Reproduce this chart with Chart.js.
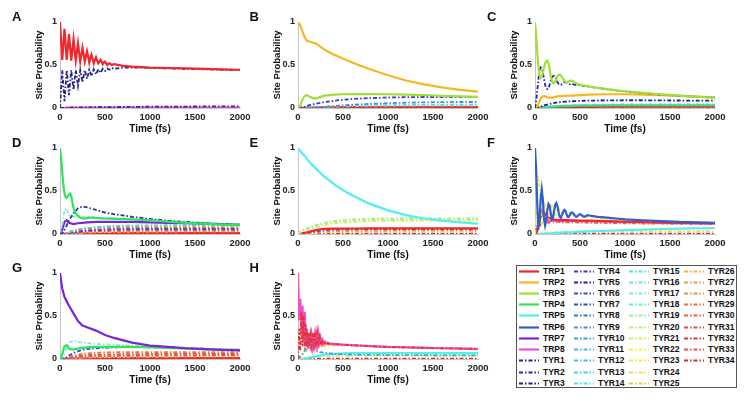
<!DOCTYPE html>
<html>
<head>
<meta charset="utf-8">
<script src="https://cdn.jsdelivr.net/npm/chart.js@4.4.1/dist/chart.umd.min.js"></script>
<style>
  html, body { margin:0; padding:0; background:#fff; }
  #root { position:relative; width:749px; height:401px; overflow:hidden; background:#fff; font-family:"Liberation Sans", Arial, sans-serif; }
  canvas { position:absolute; }
  .plabel { position:absolute; font-weight:bold; font-size:13px; line-height:13px; color:#111; }
  #legend { position:absolute; left:516px; top:265px; width:221px; height:123px; box-sizing:border-box; border:1px solid #555; background:#fff; }
  .litem { position:absolute; height:11px; display:flex; align-items:center; white-space:nowrap; }
  .litem span { font-weight:bold; font-size:8.5px; color:#111; margin-left:4px; line-height:11px; }
</style>
</head>
<body>
<div id="root">
  <div id="legend"></div>
</div>
<script>
// ---------- categories / ticks ----------
const seriesNames = ['TRP1','TRP2','TRP3','TRP4','TRP5','TRP6','TRP7','TRP8',
  'TYR1','TYR2','TYR3','TYR4','TYR5','TYR6','TYR7','TYR8','TYR9','TYR10','TYR11','TYR12','TYR13','TYR14',
  'TYR15','TYR16','TYR17','TYR18','TYR19','TYR20','TYR21','TYR22','TYR23','TYR24','TYR25',
  'TYR26','TYR27','TYR28','TYR29','TYR30','TYR31','TYR32','TYR33','TYR34'];
const panelLetters = ['A','B','C','D','E','F','G','H'];
const xTicks = [0, 500, 1000, 1500, 2000];
const yTicks = [0, 0.5, 1];
const xTitle = 'Time (fs)';
const yTitle = 'Site Probability';

// ---------- time grids (fs) ----------
const tFine = [0,12.5,25,37.5,50,62.5,75,87.5,100,112.5,125,137.5,150,162.5,175,187.5,200,212.5,225,237.5,250,262.5,275,287.5,300,312.5,325,337.5,350,362.5,375,387.5,400,412.5,425,437.5,450,462.5,475,487.5,500,512.5,525,537.5,550,562.5,575,587.5,600,700,800,900,1000,1200,1400,1600,1800,2000];
const tCoarse = [0,25,50,75,100,150,200,250,300,400,500,600,800,1000,1200,1400,1600,1800,2000];

// ---------- Panel A ----------
const A_TRP1 = [1.00,0.78,0.56,0.74,0.92,0.74,0.56,0.71,
  0.86,0.70,0.55,0.68,0.80,0.67,0.55,0.65,
  0.75,0.64,0.54,0.62,0.70,0.62,0.54,0.60,
  0.66,0.60,0.53,0.58,0.62,0.57,0.52,0.56,
  0.59,0.55,0.52,0.54,0.56,0.54,0.51,0.53,
  0.54,0.52,0.50,0.515,0.52,0.51,0.50,0.505,
  0.51,0.49,0.48,0.475,0.47,0.465,0.46,0.455,0.45,0.445];
const A_TYR1 = [0.00,0.22,0.44,0.26,0.08,0.26,0.44,0.30,
  0.15,0.30,0.44,0.32,0.21,0.33,0.44,0.35,
  0.26,0.35,0.44,0.37,0.30,0.37,0.44,0.39,
  0.34,0.39,0.445,0.41,0.37,0.41,0.45,0.42,
  0.39,0.42,0.45,0.43,0.41,0.43,0.455,0.44,
  0.43,0.445,0.46,0.45,0.445,0.455,0.465,0.46,
  0.455,0.47,0.47,0.47,0.465,0.46,0.455,0.45,0.445,0.44];
const A_TRP8 = [0,0.002,0.003,0.004,0.004,0.005,0.005,0.005,0.005,0.005,0.005,0.005,0.005,0.005,0.005,0.005,0.005,0.005,0.005];
const A_TYR2 = [0,0,0.001,0.002,0.003,0.004,0.005,0.006,0.007,0.009,0.01,0.011,0.013,0.015,0.016,0.017,0.018,0.019,0.02];
const A_TYR31 = [0,0.001,0.002,0.002,0.003,0.003,0.003,0.003,0.003,0.003,0.003,0.003,0.003,0.003,0.003,0.003,0.003,0.003,0.003];

// ---------- Panel B ----------
const B_TRP2 = [1.0,0.96,0.89,0.82,0.78,0.765,0.75,0.71,0.675,0.62,0.575,0.53,0.45,0.38,0.32,0.275,0.24,0.21,0.19];
const B_TRP3 = [0,0.03,0.1,0.14,0.15,0.12,0.11,0.13,0.145,0.155,0.16,0.162,0.162,0.16,0.155,0.15,0.142,0.135,0.13];
const B_TYR4 = [0,0.002,0.008,0.015,0.025,0.04,0.05,0.06,0.07,0.085,0.095,0.105,0.115,0.122,0.126,0.128,0.128,0.127,0.126];
const B_TYR9 = [0,0,0,0.001,0.002,0.004,0.007,0.01,0.014,0.022,0.03,0.037,0.048,0.056,0.062,0.066,0.069,0.07,0.07];
const B_TYR14 = [0,0,0.001,0.002,0.003,0.006,0.009,0.012,0.015,0.02,0.024,0.027,0.031,0.034,0.036,0.037,0.038,0.038,0.038];
const B_TYR18 = [0,0,0.001,0.002,0.003,0.005,0.008,0.01,0.012,0.016,0.019,0.021,0.024,0.026,0.027,0.028,0.028,0.028,0.028];
const B_TRP1 = [0,0.001,0.002,0.003,0.004,0.005,0.006,0.007,0.008,0.009,0.01,0.01,0.011,0.011,0.011,0.011,0.011,0.011,0.011];
const B_TYR32 = [0,0,0.001,0.001,0.002,0.002,0.003,0.003,0.003,0.004,0.004,0.004,0.004,0.004,0.004,0.004,0.004,0.004,0.004];

// ---------- Panel C ----------
const C_TRP3 = [1.00,0.85,0.65,0.48,0.38,0.35,0.36,0.41,
  0.47,0.52,0.545,0.55,0.52,0.45,0.37,0.31,
  0.29,0.29,0.31,0.34,0.37,0.385,0.39,0.38,
  0.36,0.34,0.32,0.305,0.30,0.30,0.31,0.315,
  0.32,0.315,0.31,0.30,0.29,0.285,0.28,0.275,
  0.27,0.268,0.265,0.262,0.26,0.257,0.255,0.252,
  0.25,0.235,0.22,0.205,0.195,0.175,0.158,0.143,0.13,0.12];
const C_TYR5 = [0.00,0.08,0.20,0.33,0.43,0.47,0.46,0.41,
  0.34,0.27,0.23,0.22,0.23,0.27,0.32,0.355,
  0.37,0.375,0.36,0.33,0.30,0.28,0.27,0.27,
  0.28,0.29,0.30,0.30,0.295,0.29,0.28,0.275,
  0.275,0.275,0.275,0.272,0.27,0.27,0.268,0.265,
  0.265,0.263,0.26,0.258,0.256,0.254,0.252,0.25,
  0.248,0.233,0.218,0.203,0.193,0.173,0.156,0.142,0.13,0.12];
const C_TRP2 = [0,0.02,0.08,0.13,0.14,0.12,0.12,0.135,0.14,0.145,0.15,0.155,0.16,0.16,0.155,0.148,0.14,0.132,0.125];
const C_TYR3 = [0,0.002,0.01,0.02,0.03,0.045,0.055,0.065,0.07,0.078,0.083,0.086,0.088,0.09,0.09,0.088,0.087,0.086,0.085];
const C_TYR13 = [0,0,0.002,0.005,0.008,0.015,0.02,0.025,0.028,0.032,0.035,0.037,0.04,0.041,0.042,0.042,0.042,0.042,0.042];
const C_TRP4 = [0,0.001,0.003,0.006,0.009,0.013,0.017,0.02,0.022,0.025,0.027,0.028,0.03,0.031,0.031,0.031,0.031,0.031,0.031];
const C_TRP1 = [0,0.001,0.002,0.004,0.005,0.007,0.009,0.01,0.011,0.012,0.013,0.014,0.015,0.015,0.015,0.015,0.015,0.015,0.015];
const C_TYR33 = [0,0,0.001,0.002,0.003,0.004,0.005,0.006,0.006,0.007,0.007,0.008,0.008,0.008,0.008,0.008,0.008,0.008,0.008];

// ---------- Panel D ----------
const D_TRP4 = [1.00,0.88,0.72,0.57,0.47,0.43,0.42,0.44,
  0.46,0.47,0.44,0.37,0.30,0.26,0.24,0.22,
  0.21,0.20,0.19,0.185,0.18,0.18,0.18,0.182,
  0.185,0.187,0.19,0.19,0.19,0.19,0.19,0.188,
  0.186,0.185,0.184,0.183,0.182,0.181,0.18,0.18,
  0.18,0.18,0.179,0.179,0.179,0.178,0.178,0.178,
  0.177,0.175,0.17,0.165,0.16,0.145,0.13,0.12,0.11,0.10];
const D_TYR2 = [0,0.01,0.05,0.1,0.16,0.24,0.3,0.32,0.31,0.28,0.25,0.23,0.2,0.175,0.155,0.14,0.125,0.115,0.105];
const D_TYR17 = [0,0.1,0.28,0.3,0.22,0.2,0.21,0.2,0.2,0.19,0.185,0.18,0.17,0.16,0.15,0.14,0.13,0.12,0.11];
const D_TYR13 = [0,0,0.005,0.01,0.02,0.035,0.05,0.06,0.068,0.08,0.088,0.093,0.098,0.1,0.102,0.102,0.101,0.1,0.1];
const D_TRP7 = [0,0.05,0.14,0.16,0.13,0.115,0.125,0.13,0.135,0.14,0.142,0.142,0.14,0.136,0.13,0.125,0.12,0.115,0.11];
const D_TYR6 = [0,0,0.003,0.006,0.01,0.018,0.025,0.032,0.037,0.045,0.05,0.053,0.057,0.059,0.06,0.06,0.06,0.06,0.06];
const D_TYR29 = [0,0.002,0.008,0.015,0.025,0.04,0.052,0.06,0.066,0.073,0.077,0.079,0.08,0.08,0.08,0.08,0.079,0.078,0.077];
const D_TYR31 = [0,0.001,0.005,0.01,0.016,0.026,0.034,0.04,0.044,0.05,0.053,0.055,0.057,0.058,0.058,0.058,0.058,0.058,0.058];
const D_TYR33 = [0,0.001,0.003,0.006,0.01,0.015,0.02,0.024,0.027,0.031,0.034,0.036,0.038,0.039,0.04,0.04,0.04,0.04,0.04];
const D_TYR24 = [0,0.001,0.002,0.004,0.006,0.01,0.013,0.016,0.018,0.021,0.023,0.025,0.027,0.028,0.029,0.03,0.03,0.03,0.03];
const D_TRP1 = [0,0,0.001,0.002,0.003,0.004,0.005,0.006,0.007,0.008,0.009,0.01,0.01,0.01,0.01,0.01,0.01,0.01,0.01];

// ---------- Panel E ----------
const E_TRP5 = [1.0,0.97,0.93,0.91,0.87,0.81,0.76,0.71,0.66,0.58,0.51,0.45,0.35,0.275,0.22,0.18,0.155,0.135,0.12];
const E_TYR19 = [0,0.025,0.045,0.055,0.065,0.085,0.105,0.12,0.132,0.15,0.162,0.17,0.178,0.182,0.183,0.183,0.183,0.182,0.18];
const E_TYR20 = [0,0.02,0.04,0.05,0.06,0.08,0.1,0.113,0.124,0.14,0.15,0.158,0.165,0.168,0.17,0.17,0.17,0.17,0.17];
const E_TYR21 = [0,0.015,0.03,0.04,0.05,0.065,0.08,0.093,0.104,0.12,0.132,0.14,0.148,0.152,0.154,0.155,0.155,0.155,0.155];
const E_TRP1 = [0,0.005,0.01,0.015,0.02,0.035,0.045,0.055,0.06,0.062,0.063,0.064,0.065,0.065,0.065,0.065,0.065,0.065,0.065];
const E_TYR6 = [0,0.003,0.008,0.012,0.016,0.025,0.033,0.04,0.045,0.05,0.053,0.055,0.057,0.058,0.058,0.058,0.058,0.058,0.058];
const E_TYR28 = [0,0.002,0.005,0.008,0.011,0.017,0.022,0.026,0.029,0.033,0.036,0.038,0.04,0.041,0.042,0.042,0.042,0.042,0.042];
const E_TYR24 = [0,0.001,0.003,0.005,0.007,0.011,0.015,0.018,0.02,0.023,0.025,0.027,0.029,0.03,0.03,0.03,0.03,0.03,0.03];
const E_TYR34 = [0,0,0.001,0.001,0.002,0.002,0.003,0.003,0.003,0.003,0.003,0.003,0.003,0.003,0.003,0.003,0.003,0.003,0.003];

// ---------- Panel F ----------
const F_TRP6 = [1.00,0.75,0.35,0.08,0.12,0.40,0.52,0.40,
  0.18,0.10,0.16,0.28,0.35,0.33,0.24,0.17,
  0.19,0.27,0.34,0.36,0.32,0.25,0.20,0.19,
  0.22,0.26,0.28,0.27,0.23,0.20,0.20,0.22,
  0.245,0.25,0.24,0.22,0.205,0.20,0.21,0.225,
  0.23,0.225,0.215,0.205,0.20,0.205,0.215,0.218,
  0.215,0.20,0.19,0.18,0.17,0.16,0.15,0.14,0.135,0.13];
const F_TYR23 = [0.00,0.15,0.50,0.68,0.55,0.28,0.12,0.15,
  0.30,0.36,0.30,0.22,0.20,0.25,0.31,0.33,
  0.30,0.25,0.22,0.24,0.28,0.30,0.28,0.25,
  0.24,0.25,0.26,0.25,0.235,0.23,0.235,0.24,
  0.235,0.225,0.22,0.22,0.22,0.215,0.21,0.21,
  0.205,0.203,0.20,0.20,0.198,0.196,0.195,0.194,
  0.193,0.185,0.178,0.172,0.167,0.16,0.153,0.147,0.142,0.138];
const F_TRP1 = [0,0.05,0.15,0.24,0.25,0.19,0.17,0.16,0.165,0.16,0.155,0.155,0.15,0.145,0.14,0.135,0.13,0.128,0.125];
const F_TRP8 = [0,0.08,0.2,0.27,0.2,0.15,0.16,0.15,0.15,0.155,0.15,0.148,0.145,0.14,0.135,0.13,0.126,0.123,0.12];
const F_TYR30 = [0,0.02,0.08,0.12,0.15,0.13,0.14,0.14,0.135,0.135,0.133,0.13,0.128,0.125,0.122,0.12,0.118,0.116,0.115];
const F_TRP5 = [0,0,0.001,0.002,0.003,0.006,0.009,0.012,0.015,0.02,0.025,0.03,0.038,0.045,0.052,0.058,0.063,0.067,0.07];
const F_TYR24 = [0,0.002,0.005,0.008,0.011,0.016,0.02,0.023,0.025,0.028,0.03,0.031,0.032,0.033,0.033,0.033,0.033,0.033,0.033];
const F_TYR34 = [0,0,0.001,0.001,0.002,0.002,0.003,0.003,0.003,0.003,0.003,0.003,0.003,0.003,0.003,0.003,0.003,0.003,0.003];

// ---------- Panel G ----------
const G_TRP7 = [1.0,0.82,0.72,0.67,0.62,0.53,0.44,0.39,0.37,0.33,0.28,0.245,0.19,0.155,0.14,0.125,0.115,0.105,0.1];
const G_TRP4 = [0,0.06,0.15,0.16,0.12,0.11,0.12,0.13,0.135,0.14,0.14,0.14,0.14,0.135,0.13,0.12,0.115,0.11,0.105];
const G_TYR17 = [0,0.02,0.07,0.13,0.19,0.21,0.2,0.19,0.185,0.175,0.17,0.165,0.155,0.145,0.135,0.125,0.12,0.115,0.11];
const G_TYR7 = [0,0,0.01,0.02,0.04,0.07,0.09,0.105,0.115,0.125,0.13,0.135,0.14,0.14,0.135,0.13,0.12,0.11,0.1];
const G_TYR29 = [0,0.002,0.007,0.014,0.024,0.039,0.05,0.059,0.065,0.072,0.076,0.078,0.08,0.081,0.081,0.08,0.08,0.079,0.078];
const G_TYR31 = [0,0.001,0.004,0.009,0.015,0.025,0.033,0.039,0.043,0.049,0.052,0.054,0.057,0.058,0.059,0.059,0.059,0.058,0.058];
const G_TYR33 = [0,0.001,0.003,0.005,0.009,0.014,0.019,0.023,0.026,0.03,0.033,0.035,0.037,0.039,0.04,0.04,0.041,0.041,0.041];
const G_TYR22 = [0,0.001,0.002,0.004,0.006,0.01,0.013,0.016,0.018,0.021,0.023,0.025,0.027,0.028,0.029,0.03,0.03,0.03,0.03];
const G_TRP1 = [0,0,0.001,0.002,0.003,0.004,0.005,0.006,0.007,0.008,0.009,0.01,0.01,0.01,0.01,0.01,0.01,0.01,0.01];

// ---------- Panel H ----------
const H_TRP8 = [1.00,0.45,0.70,0.30,0.62,0.20,0.55,0.15,
  0.35,0.12,0.30,0.18,0.28,0.16,0.30,0.17,
  0.29,0.18,0.30,0.19,0.25,0.18,0.22,0.18,
  0.20,0.18,0.19,0.175,0.18,0.175,0.178,0.172,
  0.175,0.172,0.174,0.17,0.172,0.168,0.17,0.167,
  0.168,0.166,0.166,0.165,0.165,0.164,0.163,0.162,
  0.162,0.155,0.15,0.145,0.14,0.135,0.13,0.125,0.12,0.115];
const H_TYR32 = [0.00,0.35,0.10,0.55,0.15,0.50,0.12,0.40,
  0.14,0.30,0.15,0.28,0.16,0.30,0.17,0.28,
  0.18,0.30,0.18,0.26,0.19,0.22,0.18,0.20,
  0.18,0.19,0.178,0.185,0.176,0.18,0.175,0.177,
  0.173,0.175,0.171,0.172,0.17,0.17,0.168,0.168,
  0.166,0.166,0.165,0.164,0.163,0.162,0.161,0.16,
  0.16,0.155,0.15,0.145,0.14,0.135,0.13,0.125,0.122,0.12];
const H_TYR25 = [0,0.02,0.05,0.08,0.1,0.12,0.14,0.15,0.155,0.16,0.16,0.155,0.15,0.145,0.14,0.135,0.13,0.125,0.12];
const H_TRP5 = [0,0,0.002,0.005,0.01,0.02,0.03,0.04,0.05,0.06,0.065,0.068,0.07,0.07,0.07,0.07,0.069,0.068,0.068];
const H_TYR21 = [0,0.003,0.008,0.012,0.016,0.022,0.027,0.03,0.032,0.035,0.037,0.038,0.039,0.04,0.04,0.04,0.04,0.04,0.04];
const H_TYR10 = [0,0.03,0.06,0.1,0.13,0.14,0.1,0.08,0.07,0.06,0.055,0.05,0.048,0.046,0.045,0.044,0.043,0.042,0.042];
const H_TYR34 = [0,0,0.001,0.001,0.002,0.002,0.003,0.003,0.003,0.003,0.003,0.003,0.003,0.003,0.003,0.003,0.003,0.003,0.003];

// ---------- panel contents (first listed = drawn on top) ----------
const panelSeries = [
  [['TRP1',tFine,A_TRP1],['TYR1',tFine,A_TYR1],['TYR2',tCoarse,A_TYR2],['TRP8',tCoarse,A_TRP8],['TYR31',tCoarse,A_TYR31]],
  [['TRP2',tCoarse,B_TRP2],['TRP3',tCoarse,B_TRP3],['TYR4',tCoarse,B_TYR4],['TYR9',tCoarse,B_TYR9],['TYR14',tCoarse,B_TYR14],['TYR18',tCoarse,B_TYR18],['TRP1',tCoarse,B_TRP1],['TYR32',tCoarse,B_TYR32]],
  [['TRP3',tFine,C_TRP3],['TYR5',tFine,C_TYR5],['TRP2',tCoarse,C_TRP2],['TYR3',tCoarse,C_TYR3],['TYR13',tCoarse,C_TYR13],['TRP4',tCoarse,C_TRP4],['TRP1',tCoarse,C_TRP1],['TYR33',tCoarse,C_TYR33]],
  [['TRP4',tFine,D_TRP4],['TYR2',tCoarse,D_TYR2],['TYR17',tCoarse,D_TYR17],['TRP7',tCoarse,D_TRP7],['TYR13',tCoarse,D_TYR13],['TYR6',tCoarse,D_TYR6],['TYR29',tCoarse,D_TYR29],['TYR31',tCoarse,D_TYR31],['TYR33',tCoarse,D_TYR33],['TYR24',tCoarse,D_TYR24],['TRP1',tCoarse,D_TRP1]],
  [['TRP5',tCoarse,E_TRP5],['TYR19',tCoarse,E_TYR19],['TYR20',tCoarse,E_TYR20],['TYR21',tCoarse,E_TYR21],['TRP1',tCoarse,E_TRP1],['TYR6',tCoarse,E_TYR6],['TYR28',tCoarse,E_TYR28],['TYR24',tCoarse,E_TYR24],['TYR34',tCoarse,E_TYR34]],
  [['TRP6',tFine,F_TRP6],['TYR23',tFine,F_TYR23],['TRP1',tCoarse,F_TRP1],['TRP8',tCoarse,F_TRP8],['TYR30',tCoarse,F_TYR30],['TRP5',tCoarse,F_TRP5],['TYR24',tCoarse,F_TYR24],['TYR34',tCoarse,F_TYR34]],
  [['TRP7',tCoarse,G_TRP7],['TRP4',tCoarse,G_TRP4],['TYR17',tCoarse,G_TYR17],['TYR7',tCoarse,G_TYR7],['TYR29',tCoarse,G_TYR29],['TYR31',tCoarse,G_TYR31],['TYR33',tCoarse,G_TYR33],['TYR22',tCoarse,G_TYR22],['TRP1',tCoarse,G_TRP1]],
  [['TYR32',tFine,H_TYR32],['TRP8',tFine,H_TRP8],['TYR10',tCoarse,H_TYR10],['TYR25',tCoarse,H_TYR25],['TRP5',tCoarse,H_TRP5],['TYR21',tCoarse,H_TYR21],['TYR34',tCoarse,H_TYR34]]
];

// ---------- styles ----------
const trpColors = ['#f2262e','#f4b824','#9ee034','#2fe35a','#4ff0f0','#2e5fcf','#7a25d6','#f24fc6'];
const tyrColors = ['#22228a','#2c2c9e','#1f1f8a','#3a3ad0','#2020b8','#4848c8','#2a4ee0','#3a70d8','#4a8ad8','#3a9ee0',
  '#46b4ec','#38bcec','#40d4e0','#44e8ec','#4ce8d8','#6ae4d4','#86ecd6','#6eeab8','#a6ec9a','#c6ee6a',
  '#dcee52','#f0f040','#f8ec30','#f4dc50','#f0c838','#f4b43a','#f0a03c','#e8904a','#f47030','#f06038',
  '#e84848','#e03434','#f25050','#d42828'];
function styleOf(name) {
  if (name.startsWith('TRP')) return { color: trpColors[+name.slice(3) - 1], dash: [], width: 2.2 };
  return { color: tyrColors[+name.slice(3) - 1], dash: [4, 2, 1.5, 2], width: 1.8 };
}

const FONT = '"Liberation Sans", Arial, Helvetica, sans-serif';
const colLeft = [60, 297.5, 535];
const rowTop = [21.5, 147.5, 272.5];
const root = document.getElementById('root');

panelSeries.forEach((series, p) => {
  const c = p % 3, r = Math.floor(p / 3);
  const cv = document.createElement('canvas');
  cv.width = 255; cv.height = 138;
  cv.style.width = '255px'; cv.style.height = '138px';
  cv.style.left = (colLeft[c] - 60) + 'px';
  cv.style.top = (rowTop[r] - 22) + 'px';
  root.appendChild(cv);

  const lab = document.createElement('div');
  lab.className = 'plabel';
  lab.textContent = panelLetters[p];
  lab.style.left = (colLeft[c] - 48) + 'px';
  lab.style.top = (rowTop[r] - 11.5) + 'px';
  root.appendChild(lab);

  const datasets = series.map(([name, t, v]) => {
    const st = styleOf(name);
    return {
      label: name,
      data: t.map((x, i) => ({ x: x, y: v[i] })),
      borderColor: st.color,
      backgroundColor: st.color,
      borderDash: st.dash,
      borderWidth: st.width,
      pointRadius: 0,
      fill: false,
      tension: 0
    };
  });

  new Chart(cv, {
    type: 'line',
    data: { datasets },
    options: {
      responsive: false,
      animation: false,
      events: [],
      layout: { padding: { left: 30, top: 22, right: 15, bottom: 0 } },
      plugins: { legend: { display: false }, tooltip: { enabled: false } },
      scales: {
        x: {
          type: 'linear', min: xTicks[0], max: xTicks[xTicks.length - 1],
          afterBuildTicks: s => { s.ticks = xTicks.map(v => ({ value: v })); },
          afterFit: s => { s.height = 30; },
          grid: { display: false, drawTicks: false },
          border: { display: true, color: '#c4c4c4', width: 1 },
          ticks: { font: { family: FONT, size: 9.5, weight: 'bold' }, color: '#222', padding: 4, maxRotation: 0, autoSkip: false,
                   callback: v => String(v) },
          title: { display: true, text: xTitle, font: { family: FONT, size: 10, weight: 'bold' }, color: '#111', padding: { top: 0, bottom: 3 } }
        },
        y: {
          type: 'linear', min: yTicks[0], max: yTicks[yTicks.length - 1],
          afterBuildTicks: s => { s.ticks = yTicks.map(v => ({ value: v })); },
          afterFit: s => { s.width = 30; },
          grid: { display: false, drawTicks: false },
          border: { display: true, color: '#c4c4c4', width: 1 },
          ticks: { font: { family: FONT, size: 9, weight: 'bold' }, color: '#222', padding: 3,
                   callback: v => String(v) },
          title: { display: true, text: yTitle, font: { family: FONT, size: 9.5, weight: 'bold' }, color: '#111', padding: { top: 4, bottom: 0 } }
        }
      }
    }
  });
});

// ---------- legend ----------
const legend = document.getElementById('legend');
seriesNames.forEach((name, k) => {
  const col = Math.floor(k / 11), row = k % 11;
  const st = styleOf(name);
  const item = document.createElement('div');
  item.className = 'litem';
  item.style.left = (2 + col * 55) + 'px';
  item.style.top = (row * 11.23 - 0.5) + 'px';
  item.innerHTML = '<svg width="20" height="11" style="display:block"><line x1="0" y1="5.5" x2="20" y2="5.5" stroke="' + st.color +
    '" stroke-width="' + st.width + '" stroke-dasharray="' + st.dash.join(' ') + '"/></svg><span>' + name + '</span>';
  legend.appendChild(item);
});
</script>
</body>
</html>
